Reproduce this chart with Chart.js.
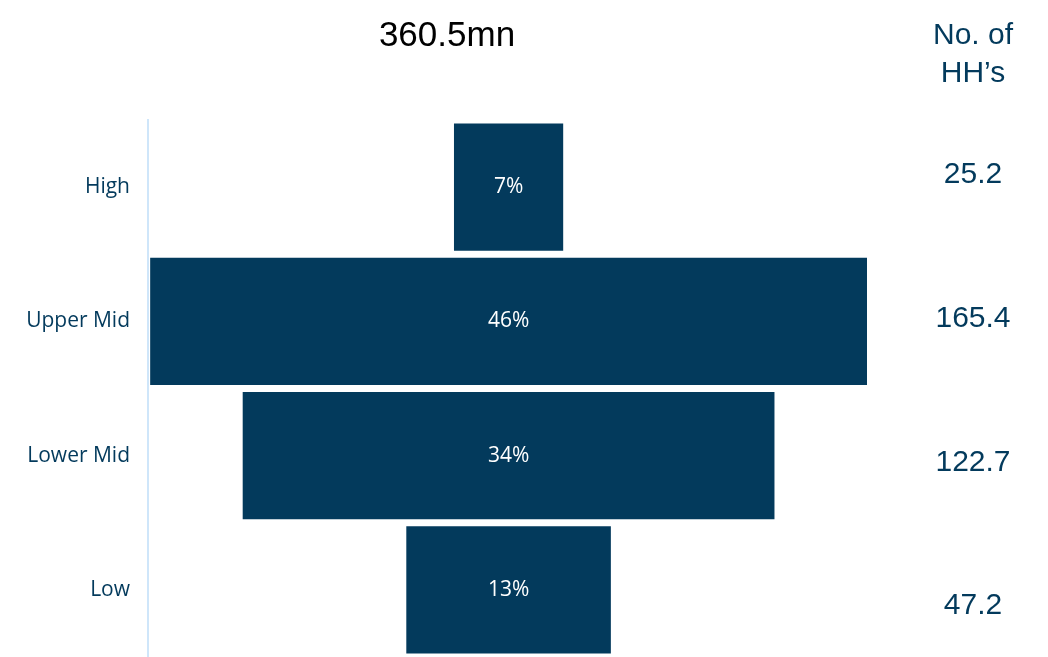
<!DOCTYPE html>
<html>
<head>
<meta charset="utf-8">
<script src="https://cdn.jsdelivr.net/npm/chart.js@4.4.1/dist/chart.umd.min.js"></script>
<style>
  html, body { margin: 0; padding: 0; background: #fff; overflow: hidden; }
</style>
</head>
<body>
<canvas id="funnel" width="1048" height="657"></canvas>
<script>
// Household segments (mn households)
const segments = ['High', 'Upper Mid', 'Lower Mid', 'Low'];
const households = [25.2, 165.4, 122.7, 47.2];
const sideTitle = ['No. of', 'HH\u2019s'];

const NAVY = '#033a5c';
const total = households.reduce((a, b) => a + b, 0);

// centre each bar around zero so it looks like a funnel
const floating = households.map(v => [-v / 2, v / 2]);

const labelsPlugin = {
  id: 'funnelLabels',
  afterDatasetsDraw(chart) {
    const ctx = chart.ctx;
    const meta = chart.getDatasetMeta(0);
    ctx.save();

    // percentages inside bars
    ctx.fillStyle = '#ffffff';
    ctx.font = '21px "Open Sans", sans-serif';
    ctx.textAlign = 'center';
    ctx.textBaseline = 'middle';
    meta.data.forEach((bar, i) => {
      const pct = Math.round(households[i] / total * 100);
      ctx.fillText(pct + '%', bar.x - (bar.x - bar.base) / 2, bar.y);
    });

    // total on top
    ctx.fillStyle = '#000000';
    ctx.font = '35px "Liberation Sans", Arial, sans-serif';
    ctx.fillText(total.toFixed(1) + 'mn', 447, 36);

    // right column
    ctx.fillStyle = NAVY;
    ctx.font = '30px "Liberation Sans", Arial, sans-serif';
    ctx.fillText(sideTitle[0], 973, 36);
    ctx.fillText(sideTitle[1], 973, 74);
    households.forEach((v, i) => {
      ctx.fillText(v.toFixed(1), 973, 175 + i * 143.7);
    });
    ctx.restore();
  }
};

new Chart(document.getElementById('funnel'), {
  type: 'bar',
  data: {
    labels: segments,
    datasets: [{
      data: floating,
      backgroundColor: NAVY,
      borderWidth: 0,
      barPercentage: 0.946,
      categoryPercentage: 1.0
    }]
  },
  options: {
    indexAxis: 'y',
    responsive: false,
    animation: false,
    layout: { padding: { top: 120, right: 168, bottom: 0, left: 0 } },
    plugins: {
      legend: { display: false },
      tooltip: { enabled: false }
    },
    scales: {
      x: {
        display: false,
        min: -83.2,
        max: 85.7
      },
      y: {
        afterFit(scale) {
          scale.width = 148;
          scale.paddingTop = 0;
          scale.paddingBottom = 0;
        },
        grid: { display: false, drawTicks: false },
        border: { display: true, color: '#cfe6fa', width: 2 },
        ticks: {
          color: NAVY,
          padding: 18,
          font: { size: 21, family: '"Open Sans", sans-serif' }
        }
      }
    }
  },
  plugins: [labelsPlugin]
});
</script>
</body>
</html>
